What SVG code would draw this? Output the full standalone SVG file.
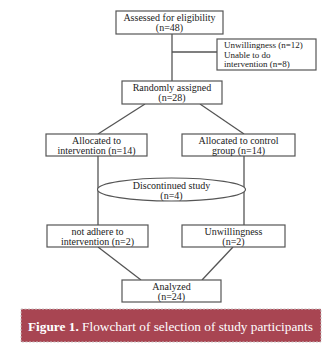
<svg xmlns="http://www.w3.org/2000/svg" width="329" height="350" viewBox="0 0 329 350">
<style>
.box{fill:#fff;stroke:#555;stroke-width:1.2}
.ln{fill:none;stroke:#555;stroke-width:1.3}
.t{font-family:"Liberation Serif","Times New Roman",serif;font-size:10px;fill:#222;text-anchor:middle}
.ts{font-family:"Liberation Serif","Times New Roman",serif;font-size:9px;fill:#222}
.cap{font-family:"Liberation Serif","Times New Roman",serif;font-size:13.3px;fill:#fff}
</style>
<rect width="329" height="350" fill="#fff"/>
<g id="connectors">
<path class="ln" d="M172 34V81"/>
<path class="ln" d="M172 52H217"/>
<path class="ln" d="M145 104L98 134"/>
<path class="ln" d="M200 104L244 134"/>
<path class="ln" d="M98 156V225"/>
<path class="ln" d="M244 156V225"/>
<path class="ln" d="M98 247L141 280"/>
<path class="ln" d="M233 247L202 280"/>
</g>
<g id="assessed">
<rect class="box" x="116" y="11" width="107" height="23"/>
<text class="t" x="169.5" y="21">Assessed for eligibility</text>
<text class="t" x="169.5" y="31">(n=48)</text>
</g>
<g id="excluded">
<rect class="box" x="217" y="39" width="99" height="31"/>
<text class="ts" x="224" y="48">Unwillingness (n=12)</text>
<text class="ts" x="224" y="57.5">Unable to do</text>
<text class="ts" x="224" y="67">intervention (n=8)</text>
</g>
<g id="randomized">
<rect class="box" x="122" y="81" width="100" height="23"/>
<text class="t" x="172" y="91">Randomly assigned</text>
<text class="t" x="172" y="101">(n=28)</text>
</g>
<g id="intervention">
<rect class="box" x="46" y="134" width="101" height="22"/>
<text class="t" x="96.5" y="143.5">Allocated to</text>
<text class="t" x="96.5" y="153.5">intervention (n=14)</text>
</g>
<g id="control">
<rect class="box" x="182" y="134" width="113" height="22"/>
<text class="t" x="238.5" y="143.5">Allocated to control</text>
<text class="t" x="238.5" y="153.5">group (n=14)</text>
</g>
<g id="discontinued">
<ellipse class="box" cx="171.5" cy="189.5" rx="74" ry="11.5"/>
<text class="t" x="171.5" y="188.5">Discontinued study</text>
<text class="t" x="171.5" y="198.5">(n=4)</text>
</g>
<g id="notadhere">
<rect class="box" x="47" y="225" width="101" height="22"/>
<text class="t" x="97.5" y="234.5">not adhere to</text>
<text class="t" x="97.5" y="244.5">intervention (n=2)</text>
</g>
<g id="unwilling">
<rect class="box" x="182" y="225" width="103" height="22"/>
<text class="t" x="233.5" y="234.5">Unwillingness</text>
<text class="t" x="233.5" y="244.5">(n=2)</text>
</g>
<g id="analyzed">
<rect class="box" x="122" y="280" width="99" height="22"/>
<text class="t" x="171.5" y="289.5">Analyzed</text>
<text class="t" x="171.5" y="299.5">(n=24)</text>
</g>
<g id="caption">
<rect x="21" y="309" width="300" height="33" fill="#a84552" stroke="#c9c3c3" stroke-width="1" stroke-dasharray="2 1.5"/>
<text class="cap" x="28" y="330.5"><tspan font-weight="bold">Figure 1.</tspan> Flowchart of selection of study participants</text>
</g>
</svg>
